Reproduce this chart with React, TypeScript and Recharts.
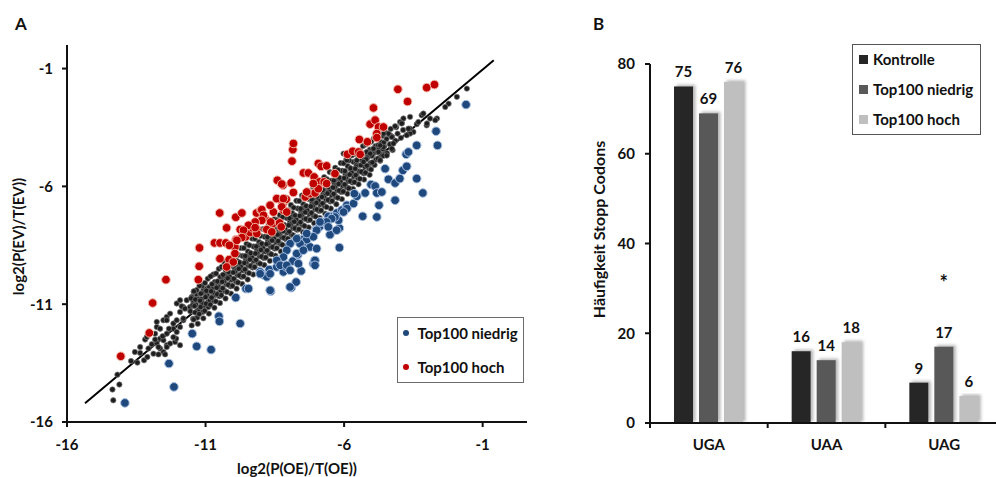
import React from "react";
import {
  ScatterChart,
  Scatter,
  XAxis,
  YAxis,
  ReferenceLine,
  Legend,
  BarChart,
  Bar,
  LabelList,
} from "recharts";

const FONT = "Lato, 'Open Sans', sans-serif";
const INK = "#111";

// ---------- Panel A: scatter ----------
type Pt = [number, number];

const controlPoints: Pt[] = [
  [-14.36, -14.62], [-14.33, -15.08], [-14.11, -14.41], [-14.18, -13.99], [-13.69, -13.41], [-13.46, -13.48],
  [-13.36, -13.07], [-13.22, -13.38], [-13.1, -13.24], [-13.06, -12.88], [-12.94, -12.7], [-12.76, -12.65],
  [-12.64, -12.88], [-12.52, -13.03], [-12.4, -12.74], [-12.28, -12.67], [-12.1, -12.6], [-12.64, -12.46],
  [-12.4, -12.25], [-12.88, -13.1], [-12.7, -13.13], [-12.46, -13.13], [-13.18, -12.5], [-12.06, -12.46],
  [-13.55, -13.03], [-13.36, -12.82], [-13.12, -12.39], [-12.82, -12.25], [-12.76, -11.97], [-12.52, -11.68],
  [-12.4, -11.54], [-12.28, -11.4], [-12.04, -10.97], [-11.92, -10.83], [-11.8, -11.12], [-12.16, -12.04],
  [-12.04, -12.18], [-11.92, -11.97], [-11.8, -11.68], [-12.52, -12.53], [-12.7, -12.82], [-12.4, -12.82],
  [-12.16, -11.82], [-12.04, -11.68], [-12.4, -11.68], [-11.8, -11.61], [-11.92, -11.33], [-11.86, -11.09],
  [-11.74, -11.19], [-11.68, -10.83], [-11.56, -11.12], [-11.44, -10.9], [-11.5, -10.69], [-11.32, -10.59],
  [-11.2, -10.55], [-11.08, -10.41], [-10.96, -10.34], [-11.14, -10.83], [-10.9, -10.69], [-10.72, -10.55],
  [-10.72, -10.27], [-10.6, -10.13], [-10.48, -10.06], [-10.84, -10.83], [-11.92, -12.74], [-12.32, -12.04],
  [-12.55, -12.36], [-12.16, -12.4], [-12.82, -12.5], [-12.64, -12.04], [-12.76, -11.75],
  [-11.52, -10.75], [-11.47, -11.05], [-11.55, -11.3], [-11.45, -11.62], [-11.5, -11.9], [-11.43, -10.48],
  [-11.32, -10.4], [-11.27, -10.78], [-11.35, -11.02], [-11.25, -11.31], [-11.3, -11.57], [-11.28, -11.83],
  [-11.12, -10.22], [-11.07, -10.5], [-11.15, -10.79], [-11.05, -11.06], [-11.1, -11.33], [-11.08, -11.6], [-11.13, -10.95],
  [-10.92, -9.92], [-10.87, -10.28], [-10.95, -10.6], [-10.85, -10.86], [-10.9, -11.12], [-10.88, -11.4], [-10.93, -10.45],
  [-10.72, -9.74], [-10.67, -10.06], [-10.75, -10.36], [-10.65, -10.61], [-10.7, -10.87], [-10.68, -11.15], [-10.73, -10.5],
  [-10.52, -9.5], [-10.47, -9.84], [-10.55, -10.16], [-10.45, -10.42], [-10.5, -10.66], [-10.48, -10.95], [-10.53, -10.27],
  [-10.32, -9.22], [-10.27, -9.56], [-10.35, -9.88], [-10.25, -10.15], [-10.3, -10.44], [-10.28, -10.76], [-10.33, -10.02], [-10.26, -9.74],
  [-10.12, -9.04], [-10.07, -9.36], [-10.15, -9.69], [-10.05, -9.96], [-10.1, -10.24], [-10.08, -10.55], [-10.13, -9.84],
  [-9.92, -8.86], [-9.87, -9.16], [-9.95, -9.5], [-9.85, -9.76], [-9.9, -10.04], [-9.88, -10.34], [-9.93, -9.61], [-9.86, -9.31],
  [-9.72, -8.62], [-9.67, -8.95], [-9.75, -9.29], [-9.65, -9.56], [-9.7, -9.84], [-9.68, -10.14], [-9.73, -9.41],
  [-9.52, -8.44], [-9.47, -8.76], [-9.55, -9.09], [-9.45, -9.36], [-9.5, -9.64], [-9.48, -9.95], [-9.53, -9.21], [-9.46, -8.94],
  [-9.32, -8.21], [-9.27, -8.55], [-9.35, -8.89], [-9.25, -9.16], [-9.3, -9.44], [-9.28, -9.74], [-9.33, -9.01],
  [-9.12, -8.04], [-9.07, -8.36], [-9.15, -8.69], [-9.05, -8.96], [-9.1, -9.24], [-9.08, -9.56], [-9.13, -8.81], [-9.06, -8.5],
  [-8.92, -7.81], [-8.87, -8.14], [-8.95, -8.49], [-8.85, -8.76], [-8.9, -9.04], [-8.88, -9.34], [-8.93, -8.61],
  [-8.72, -7.61], [-8.67, -7.94], [-8.75, -8.29], [-8.65, -8.56], [-8.7, -8.84], [-8.68, -9.16], [-8.73, -8.41], [-8.66, -8.09],
  [-8.52, -7.39], [-8.47, -7.76], [-8.55, -8.09], [-8.45, -8.36], [-8.5, -8.64], [-8.48, -8.94], [-8.53, -8.21],
  [-8.32, -7.21], [-8.27, -7.54], [-8.35, -7.89], [-8.25, -8.16], [-8.3, -8.44], [-8.28, -8.76], [-8.33, -8.01], [-8.26, -7.69],
  [-8.12, -7.01], [-8.07, -7.34], [-8.15, -7.69], [-8.05, -7.96], [-8.1, -8.24], [-8.08, -8.54], [-8.13, -7.81],
  [-7.92, -6.79], [-7.87, -7.14], [-7.95, -7.49], [-7.85, -7.76], [-7.9, -8.04], [-7.88, -8.34], [-7.93, -7.61], [-7.86, -7.29],
  [-7.72, -6.61], [-7.67, -6.94], [-7.75, -7.29], [-7.65, -7.56], [-7.7, -7.84], [-7.68, -8.14], [-7.73, -7.41],
  [-7.52, -6.39], [-7.47, -6.76], [-7.55, -7.09], [-7.45, -7.36], [-7.5, -7.64], [-7.48, -7.94], [-7.53, -7.21], [-7.46, -6.91],
  [-7.32, -6.21], [-7.27, -6.54], [-7.35, -6.89], [-7.25, -7.16], [-7.3, -7.44], [-7.28, -7.74], [-7.33, -7.01],
  [-7.12, -6.01], [-7.07, -6.34], [-7.15, -6.69], [-7.05, -6.96], [-7.1, -7.24], [-7.08, -7.56], [-7.13, -6.81], [-7.06, -6.49],
  [-6.92, -5.76], [-6.87, -6.14], [-6.95, -6.49], [-6.85, -6.76], [-6.9, -7.04], [-6.88, -7.34], [-6.93, -6.61],
  [-6.72, -5.61], [-6.67, -5.94], [-6.75, -6.29], [-6.65, -6.56], [-6.7, -6.84], [-6.68, -7.16], [-6.73, -6.41], [-6.66, -6.09],
  [-6.52, -5.39], [-6.47, -5.76], [-6.55, -6.09], [-6.45, -6.36], [-6.5, -6.64], [-6.48, -6.94], [-6.53, -6.21],
  [-6.32, -5.21], [-6.27, -5.54], [-6.35, -5.89], [-6.25, -6.16], [-6.3, -6.44], [-6.28, -6.76], [-6.33, -6.01], [-6.26, -5.69],
  [-6.12, -5.01], [-6.07, -5.34], [-6.15, -5.69], [-6.05, -5.96], [-6.1, -6.24], [-6.08, -6.54], [-6.13, -5.81],
  [-5.92, -4.86], [-5.87, -5.14], [-5.95, -5.49], [-5.85, -5.76], [-5.9, -6.04], [-5.88, -6.31], [-5.93, -5.61],
  [-5.72, -4.66], [-5.67, -4.96], [-5.75, -5.29], [-5.65, -5.56], [-5.7, -5.84], [-5.68, -6.11], [-5.73, -5.41],
  [-5.52, -4.51], [-5.47, -4.79], [-5.55, -5.11], [-5.45, -5.36], [-5.5, -5.64], [-5.48, -5.91],
  [-5.32, -4.29], [-5.27, -4.61], [-5.35, -4.89], [-5.25, -5.16], [-5.3, -5.44], [-5.28, -5.71],
  [-5.12, -4.16], [-5.07, -4.44], [-5.15, -4.76], [-5.05, -5.01], [-5.1, -5.24], [-5.08, -5.51],
  [-4.92, -3.96], [-4.87, -4.29], [-4.95, -4.61], [-4.85, -4.86], [-4.9, -5.09],
  [-4.72, -3.81], [-4.67, -4.11], [-4.75, -4.39], [-4.65, -4.66], [-4.7, -4.91],
  [-4.52, -3.71], [-4.47, -3.99], [-4.55, -4.31], [-4.45, -4.59],
  [-4.32, -3.56], [-4.27, -3.89], [-4.35, -4.21], [-4.25, -4.46],
  [-4.12, -3.49], [-4.07, -3.76], [-4.15, -4.06],
  [-3.92, -3.31], [-3.87, -3.61], [-3.95, -3.94],
  // in-between rows of the dense band
  [-11.42, -10.45], [-11.37, -10.8], [-11.4, -11.08], [-11.38, -11.35], [-11.43, -11.65],
  [-11.22, -10.22], [-11.17, -10.55], [-11.2, -10.85], [-11.18, -11.12], [-11.23, -11.42],
  [-11.02, -10.1], [-10.97, -10.43], [-11.0, -10.7], [-10.98, -10.98], [-11.03, -11.28],
  [-10.82, -9.82], [-10.77, -10.15], [-10.8, -10.45], [-10.78, -10.72], [-10.83, -11.02],
  [-10.62, -9.7], [-10.57, -10.03], [-10.6, -10.3], [-10.58, -10.58], [-10.63, -10.88],
  [-10.42, -9.42], [-10.37, -9.75], [-10.4, -10.05], [-10.38, -10.32], [-10.43, -10.62],
  [-10.22, -9.3], [-10.17, -9.63], [-10.2, -9.9], [-10.18, -10.18], [-10.23, -10.48],
  [-10.02, -9.02], [-9.97, -9.35], [-10.0, -9.65], [-9.98, -9.92], [-10.03, -10.22],
  [-9.82, -8.9], [-9.77, -9.23], [-9.8, -9.5], [-9.78, -9.78], [-9.83, -10.08],
  [-9.62, -8.62], [-9.57, -8.95], [-9.6, -9.25], [-9.58, -9.52], [-9.63, -9.82],
  [-9.42, -8.5], [-9.37, -8.83], [-9.4, -9.1], [-9.38, -9.38], [-9.43, -9.68],
  [-9.22, -8.22], [-9.17, -8.55], [-9.2, -8.85], [-9.18, -9.12], [-9.23, -9.42],
  [-9.02, -8.1], [-8.97, -8.43], [-9.0, -8.7], [-8.98, -8.98], [-9.03, -9.28],
  [-8.82, -7.82], [-8.77, -8.15], [-8.8, -8.45], [-8.78, -8.72], [-8.83, -9.02],
  [-8.62, -7.7], [-8.57, -8.03], [-8.6, -8.3], [-8.58, -8.58], [-8.63, -8.88],
  [-8.42, -7.42], [-8.37, -7.75], [-8.4, -8.05], [-8.38, -8.32], [-8.43, -8.62],
  [-8.22, -7.3], [-8.17, -7.63], [-8.2, -7.9], [-8.18, -8.18], [-8.23, -8.48],
  [-8.02, -7.02], [-7.97, -7.35], [-8.0, -7.65], [-7.98, -7.92], [-8.03, -8.22],
  [-7.82, -6.9], [-7.77, -7.23], [-7.8, -7.5], [-7.78, -7.78], [-7.83, -8.08],
  [-7.62, -6.62], [-7.57, -6.95], [-7.6, -7.25], [-7.58, -7.52], [-7.63, -7.82],
  [-7.42, -6.5], [-7.37, -6.83], [-7.4, -7.1], [-7.38, -7.38], [-7.43, -7.68],
  [-7.22, -6.22], [-7.17, -6.55], [-7.2, -6.85], [-7.18, -7.12], [-7.23, -7.42],
  [-7.02, -6.1], [-6.97, -6.43], [-7.0, -6.7], [-6.98, -6.98], [-7.03, -7.28],
  [-6.82, -5.82], [-6.77, -6.15], [-6.8, -6.45], [-6.78, -6.72], [-6.83, -7.02],
  [-6.62, -5.7], [-6.57, -6.03], [-6.6, -6.3], [-6.58, -6.58], [-6.63, -6.88],
  [-6.42, -5.42], [-6.37, -5.75], [-6.4, -6.05], [-6.38, -6.32], [-6.43, -6.62],
  [-6.22, -5.3], [-6.17, -5.63], [-6.2, -5.9], [-6.18, -6.18], [-6.23, -6.48],
  [-6.02, -5.02], [-5.97, -5.35], [-6.0, -5.65], [-5.98, -5.92], [-6.03, -6.22],
  [-5.82, -4.9], [-5.77, -5.23], [-5.8, -5.5], [-5.78, -5.78], [-5.83, -6.08],
  [-5.62, -4.62], [-5.57, -4.95], [-5.6, -5.25], [-5.58, -5.52], [-5.63, -5.82],
  [-5.42, -4.5], [-5.37, -4.83], [-5.4, -5.1], [-5.38, -5.38], [-5.43, -5.68],
  [-5.22, -4.22], [-5.17, -4.55], [-5.2, -4.85], [-5.18, -5.12], [-5.23, -5.42],
  [-5.02, -4.1], [-4.97, -4.43], [-5.0, -4.7], [-4.98, -4.98], [-5.03, -5.28],
  [-4.82, -3.95], [-4.77, -4.25], [-4.8, -4.55], [-4.78, -4.82],
  [-4.62, -3.85], [-4.57, -4.15], [-4.6, -4.42], [-4.58, -4.7],
  // sparse upper end
  [-1.57, -1.85], [-1.93, -2.2], [-2.23, -2.49], [-2.35, -2.63], [-2.65, -3.12], [-2.9, -3.12], [-3.02, -3.41],
  [-3.2, -2.98], [-3.38, -3.36], [-3.5, -3.69], [-3.62, -3.76], [-3.86, -3.12], [-3.98, -3.27], [-4.16, -3.45],
  [-3.74, -3.83], [-4.34, -3.83], [-4.58, -4.33], [-4.28, -4.4], [-4.7, -4.26], [-5.18, -4.54], [-3.62, -3.55],
  [-2.71, -3.19], [-3.14, -2.91], [-3.01, -3.33], [-3.32, -3.27], [-3.62, -3.05], [-3.68, -3.55], [-3.92, -3.33],
  [-4.28, -3.9], [-4.4, -3.76], [-4.58, -3.76], [-4.22, -4.18], [-4.76, -4.54], [-4.94, -4.4], [-5.06, -4.61],
  [-4.46, -4.69], [-4.7, -4.89], [-5.3, -4.96], [-5.54, -4.89], [-5.72, -4.68], [-6.02, -4.61], [-5.9, -4.89],
];

const lowPoints: Pt[] = [
  [-13.91, -15.19], [-12.14, -14.51], [-12.32, -13.52], [-11.32, -12.79], [-10.8, -12.93], [-11.48, -12.25],
  [-10.52, -11.51], [-10.5, -11.73], [-9.75, -11.82], [-9.91, -10.72], [-9.54, -10.34], [-9.45, -10.34],
  [-8.65, -10.45], [-8.88, -9.77], [-9.03, -9.63], [-8.79, -9.84], [-8.7, -9.53], [-8.43, -9.42], [-8.19, -9.63],
  [-8.09, -9.42], [-7.85, -9.17], [-7.91, -10.3], [-7.73, -10.06], [-7.55, -9.59], [-7.67, -8.9], [-7.11, -9.28],
  [-7.07, -9.17], [-7.41, -8.36], [-7.23, -8.57], [-6.99, -8.64], [-7.49, -8.26], [-7.35, -8.26], [-7.01, -7.83],
  [-6.89, -7.72], [-6.81, -7.51], [-6.51, -8.05], [-6.57, -7.27], [-6.39, -7.27], [-6.17, -7.77], [-6.17, -8.6],
  [-6.26, -7.13], [-6.08, -7.01], [-5.9, -6.8], [-5.66, -6.73], [-5.54, -6.42], [-5.63, -6.31], [-5.33, -7.27],
  [-5.24, -6.28], [-5.03, -5.92], [-4.88, -5.99], [-4.82, -6.28], [-4.74, -6.8], [-4.82, -7.3], [-4.52, -5.25],
  [-4.4, -5.7], [-4.16, -5.86], [-4.16, -6.59], [-3.88, -5.32], [-3.74, -5.15], [-3.76, -4.64], [-3.68, -4.54],
  [-3.38, -4.26], [-3.38, -5.67], [-3.16, -6.28], [-2.68, -3.66], [-2.63, -4.26], [-1.6, -2.53],
  [-3.99, -5.67], [-4.64, -6.24], [-5.9, -6.94], [-6.02, -7.09], [-6.2, -7.44], [-6.33, -7.3], [-6.45, -7.37],
  [-6.63, -7.51], [-6.57, -7.72], [-6.27, -7.86], [-6.87, -7.51], [-6.99, -7.86], [-7.11, -8.14], [-7.35, -8.0],
  [-7.59, -8.43], [-7.71, -8.22], [-7.95, -8.43], [-8.07, -8.71], [-8.19, -9.0], [-8.43, -9.14], [-8.31, -9.35],
  [-8.07, -9.35], [-7.95, -9.56], [-7.71, -8.85], [-7.65, -9.28], [-7.47, -8.71], [-7.05, -9.14], [-7.05, -9.35],
  [-9.03, -9.71], [-8.67, -9.71], [-7.95, -10.27], [-8.67, -10.41],
];

const highPoints: Pt[] = [
  [-14.06, -13.21], [-13.03, -12.22], [-12.91, -10.95], [-12.43, -9.96], [-11.26, -9.96], [-11.23, -9.39],
  [-11.22, -8.61], [-10.49, -7.13], [-10.68, -8.4], [-10.48, -8.4], [-10.27, -8.4], [-10.24, -7.76],
  [-10.48, -9.07], [-10.15, -9.11], [-9.91, -7.31], [-9.9, -8.26], [-9.94, -8.57], [-9.94, -8.85], [-10.0, -9.21],
  [-10.24, -9.42], [-9.69, -7.13], [-9.75, -7.83], [-9.55, -8.14], [-9.39, -7.96], [-9.31, -7.76], [-9.15, -7.82],
  [-9.16, -7.13], [-9.0, -7.01], [-8.85, -7.37], [-9.15, -8.0], [-8.79, -7.83], [-8.55, -7.09], [-8.58, -7.58],
  [-8.33, -7.55], [-8.27, -7.72], [-8.19, -7.01], [-8.21, -6.73], [-8.41, -5.74], [-8.21, -5.95], [-8.09, -6.55],
  [-7.91, -5.85], [-7.83, -6.26], [-7.88, -4.93], [-7.85, -4.44], [-7.83, -4.18], [-7.47, -5.43], [-7.29, -5.43],
  [-7.4, -6.45], [-7.23, -6.31], [-7.05, -6.28], [-7.08, -5.6], [-6.93, -5.03], [-6.83, -5.15], [-6.89, -5.81],
  [-6.72, -5.81], [-6.93, -6.1], [-6.63, -5.13], [-6.33, -5.46], [-5.88, -4.64], [-5.69, -4.51], [-5.48, -4.54],
  [-5.45, -4.01], [-5.42, -4.64], [-5.16, -4.11], [-5.06, -3.36], [-4.88, -3.19], [-4.94, -2.67], [-4.76, -3.48],
  [-4.58, -3.48], [-4.82, -3.76], [-4.82, -3.93], [-4.06, -1.88], [-3.71, -2.4], [-3.02, -1.81], [-2.74, -1.68],
  [-7.11, -5.88], [-6.63, -5.88], [-7.35, -6.24], [-8.25, -5.9], [-8.43, -6.52], [-8.19, -6.52], [-8.67, -6.8],
  [-8.25, -6.87], [-8.07, -7.09], [-8.97, -6.99], [-8.91, -7.23], [-8.97, -7.44], [-9.21, -7.51], [-9.45, -7.65],
  [-9.63, -7.86], [-9.21, -7.75], [-8.65, -7.51], [-8.61, -7.93], [-9.69, -8.17], [-9.87, -8.29], [-10.14, -8.5],
];

const fitLine = [
  { x: -15.35, y: -15.2 },
  { x: -0.6, y: -0.65 },
];
const ticksA = [-16, -11, -6, -1];
const xTitleA = "log2(P(OE)/T(OE))";
const yTitleA = "log2(P(EV)/T(EV))";
const legendNamesA = ["Top100 niedrig", "Top100 hoch"];

// ---------- Panel B: bars ----------
const codons = ["UGA", "UAA", "UAG"];
const kontrolle = [75, 16, 9];
const niedrig = [69, 14, 17];
const hoch = [76, 18, 6];
const signif = ["", "", "*"];
const ticksB = [0, 20, 40, 60, 80];
const yTitleB = "Häufigkeit Stopp Codons";
const seriesNamesB = ["Kontrolle", "Top100 niedrig", "Top100 hoch"];

const BLUE = "#1f497d";
const RED = "#c00000";
const barColours = ["#262626", "#595959", "#bfbfbf"];

const toXY = (pts: Pt[]) => pts.map(([x, y]) => ({ x, y }));

const barData = codons.map((codon, i) => ({
  codon,
  kontrolle: kontrolle[i],
  niedrig: niedrig[i],
  hoch: hoch[i],
  sig: signif[i],
}));

const CHART_B_W = 423;
const YAXIS_B_W = 70;

const textStyle = { fill: INK, fontSize: 15, fontWeight: 700, fontFamily: FONT };

const dot = (r: number, fill: string, stroke: string, sw: number) => (p: any) =>
  <circle cx={p.cx} cy={p.cy} r={r} fill={fill} stroke={stroke} strokeWidth={sw} />;

const VerticalTitle = ({ viewBox, text, dx, dy, size }: any) => {
  const cx = viewBox.x + dx;
  const cy = viewBox.y + viewBox.height / 2 + dy;
  return (
    <text
      x={cx}
      y={cy}
      transform={`rotate(-90, ${cx}, ${cy})`}
      textAnchor="middle"
      dominantBaseline="central"
      fill={INK}
      fontSize={size}
      fontWeight={700}
      fontFamily={FONT}
    >
      {text}
    </text>
  );
};

const LegendA = () => (
  <div
    style={{
      width: 127,
      height: 66,
      border: "1.5px solid #6b6b6b",
      boxSizing: "border-box",
      background: "#fff",
      position: "relative",
      fontFamily: FONT,
      fontWeight: 700,
      fontSize: 15,
      color: INK,
    }}
  >
    {legendNamesA.map((name, i) => (
      <div
        key={name}
        style={{ position: "absolute", left: 5, top: 5 + i * 34, height: 20, display: "flex", alignItems: "center", whiteSpace: "nowrap" }}
      >
        <span style={{ display: "inline-block", width: 6, height: 6, borderRadius: 3, background: i === 0 ? BLUE : RED, marginRight: 8.5 }} />
        {name}
      </div>
    ))}
  </div>
);

const LegendB = () => (
  <div
    style={{
      width: 129,
      height: 91,
      border: "1.5px solid #555",
      boxSizing: "border-box",
      background: "#fff",
      position: "relative",
      fontFamily: FONT,
      fontWeight: 700,
      fontSize: 15,
      color: INK,
    }}
  >
    {seriesNamesB.map((name, i) => (
      <div
        key={name}
        style={{ position: "absolute", left: 6, top: 4 + i * 30, height: 20, display: "flex", alignItems: "center", whiteSpace: "nowrap" }}
      >
        <span style={{ display: "inline-block", width: 9, height: 9, background: barColours[i], marginRight: 5 }} />
        {name}
      </div>
    ))}
  </div>
);

const ShadowBar = (p: any) => (
  <rect x={p.x} y={p.y} width={p.width} height={p.height} fill={p.fill} filter="url(#barShadow)" />
);

const CategoryTick = (p: any) => {
  const half = (CHART_B_W - YAXIS_B_W) / codons.length / 2;
  return (
    <g>
      <line x1={p.x - half} x2={p.x - half} y1={p.y} y2={p.y + 5} stroke={INK} strokeWidth={2} />
      <text x={p.x} y={p.y + 27} textAnchor="middle" {...textStyle}>
        {p.payload.value}
      </text>
    </g>
  );
};

const ScatterPanel = () => (
  <ScatterChart width={527} height={477} margin={{ top: 45, right: 0, bottom: 0, left: 0 }}>
    <XAxis
      type="number"
      dataKey="x"
      domain={[-16, 0.6]}
      ticks={ticksA}
      allowDataOverflow
      height={55}
      tickSize={5}
      tickMargin={12}
      axisLine={{ stroke: INK, strokeWidth: 2 }}
      tickLine={{ stroke: INK, strokeWidth: 2 }}
      tick={textStyle}
      label={{ value: xTitleA, position: "insideBottom", offset: 3, ...textStyle }}
    />
    <YAxis
      type="number"
      dataKey="y"
      domain={[-16, 0]}
      ticks={ticksA}
      allowDataOverflow
      width={67}
      tickSize={5}
      tickMargin={9}
      axisLine={{ stroke: INK, strokeWidth: 2 }}
      tickLine={{ stroke: INK, strokeWidth: 2 }}
      tick={textStyle}
      label={{ content: (p: any) => <VerticalTitle viewBox={p.viewBox} text={yTitleA} dx={18} dy={3} size={15} /> }}
    />
    <Legend
      layout="vertical"
      align="center"
      verticalAlign="middle"
      content={() => <LegendA />}
      wrapperStyle={{ left: 397, top: 317, width: 127, height: 66 }}
    />
    <Scatter data={toXY(controlPoints)} shape={dot(2.7, "#1e1e1e", "#7d7d7d", 0.7)} isAnimationActive={false} />
    <ReferenceLine segment={fitLine} stroke="#000" strokeWidth={2} />
    <Scatter data={toXY(lowPoints)} shape={dot(4.3, BLUE, "#a9c1e3", 1)} isAnimationActive={false} />
    <Scatter data={toXY(highPoints)} shape={dot(4.3, RED, "#f3b7a6", 1)} isAnimationActive={false} />
  </ScatterChart>
);

const BarPanel = () => (
  <BarChart
    width={CHART_B_W}
    height={477}
    data={barData}
    margin={{ top: 64, right: 0, bottom: 0, left: 0 }}
    barSize={19}
    barGap={6}
  >
    <defs>
      <filter id="barShadow" x="-40%" y="-10%" width="190%" height="125%">
        <feDropShadow dx="2.5" dy="-1.5" stdDeviation="1.6" floodColor="#7a7a7a" floodOpacity="0.55" />
      </filter>
    </defs>
    <XAxis
      dataKey="codon"
      height={54}
      tickSize={0}
      tickMargin={0}
      tickLine={false}
      interval={0}
      axisLine={{ stroke: INK, strokeWidth: 2 }}
      tick={<CategoryTick />}
    />
    <YAxis
      domain={[0, 80]}
      ticks={ticksB}
      allowDataOverflow
      width={YAXIS_B_W}
      tickSize={5}
      tickMargin={10}
      axisLine={{ stroke: INK, strokeWidth: 2 }}
      tickLine={{ stroke: INK, strokeWidth: 2 }}
      tick={textStyle}
      label={{ content: (p: any) => <VerticalTitle viewBox={p.viewBox} text={yTitleB} dx={18} dy={-14} size={16} /> }}
    />
    <Legend
      layout="vertical"
      align="center"
      verticalAlign="middle"
      content={() => <LegendB />}
      wrapperStyle={{ left: 272, top: 44, width: 129, height: 91 }}
    />
    <Bar dataKey="kontrolle" name={seriesNamesB[0]} fill={barColours[0]} shape={ShadowBar} isAnimationActive={false}>
      <LabelList dataKey="kontrolle" position="top" offset={9} {...textStyle} fontSize={15} />
    </Bar>
    <Bar dataKey="niedrig" name={seriesNamesB[1]} fill={barColours[1]} shape={ShadowBar} isAnimationActive={false}>
      <LabelList dataKey="niedrig" position="top" offset={9} {...textStyle} fontSize={15} />
      <LabelList dataKey="sig" position="top" offset={57} {...textStyle} fontSize={20} />
    </Bar>
    <Bar dataKey="hoch" name={seriesNamesB[2]} fill={barColours[2]} shape={ShadowBar} isAnimationActive={false}>
      <LabelList dataKey="hoch" position="top" offset={9} {...textStyle} fontSize={15} />
    </Bar>
  </BarChart>
);

export default function App() {
  return (
    <div style={{ position: "absolute", left: 0, top: 0, width: 996, height: 477, overflow: "hidden", background: "#fff" }}>
      <div style={{ position: "absolute", left: 0, top: 0 }}>
        <ScatterPanel />
      </div>
      <div style={{ position: "absolute", left: 580, top: 0 }}>
        <BarPanel />
      </div>
      <svg width={996} height={477} style={{ position: "absolute", left: 0, top: 0, pointerEvents: "none" }}>
        <text x={15} y={29.5} {...textStyle} fontSize={17}>A</text>
        <text x={593} y={29.5} {...textStyle} fontSize={17}>B</text>
      </svg>
    </div>
  );
}
